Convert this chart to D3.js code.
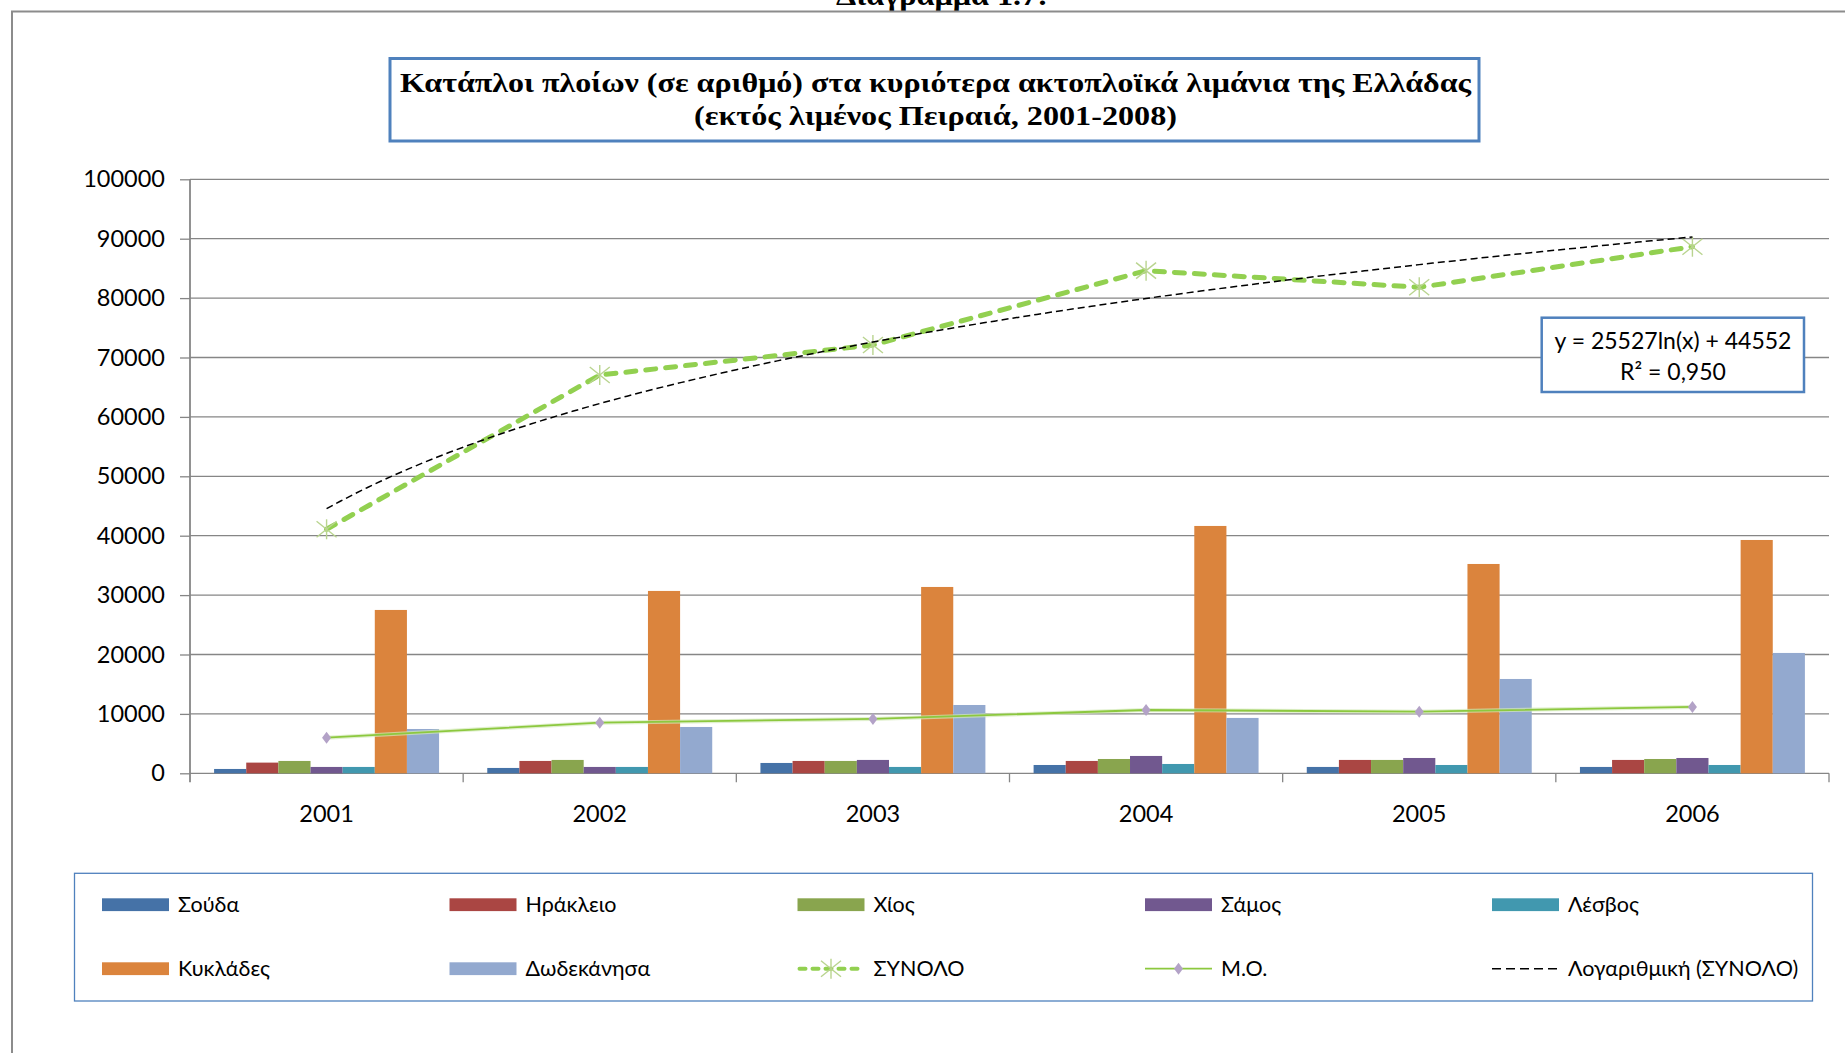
<!DOCTYPE html>
<html>
<head>
<meta charset="utf-8">
<script src="https://cdn.jsdelivr.net/npm/d3@7"></script>
<style>
  html, body { margin: 0; padding: 0; background: #ffffff; overflow: hidden; }
  svg { display: block; }
</style>
</head>
<body>
<svg id="chart" width="1845" height="1053"></svg>
<script>
// ---- Data -------------------------------------------------------------
const years = ["2001", "2002", "2003", "2004", "2005", "2006"];
const barSeries = ["Σούδα", "Ηράκλειο", "Χίος", "Σάμος", "Λέσβος", "Κυκλάδες", "Δωδεκάνησα"];
const barColors = ["#4572a7", "#aa4643", "#89a54e", "#71588f", "#4198af", "#db843d", "#93a9cf"];

const soudaValues      = [730, 900, 1740, 1400, 1070, 1070];
const irakleioValues   = [1800, 2080, 2080, 2080, 2250, 2250];
const chiosValues      = [2080, 2250, 2080, 2410, 2250, 2410];
const samosValues      = [1070, 1070, 2250, 2920, 2580, 2580];
const lesvosValues     = [1070, 1070, 1070, 1570, 1400, 1400];
const kykladesValues   = [27500, 30700, 31370, 41640, 35240, 39280];
const dodekanisaValues = [7460, 7800, 11500, 9320, 15880, 20260];

const totalValues = [41080, 67050, 72100, 84620, 81820, 88650];   // ΣΥΝΟΛΟ
const meanValues  = [6000, 8530, 9150, 10660, 10380, 11170];      // Μ.Ο.

const yTicks = [0, 10000, 20000, 30000, 40000, 50000, 60000, 70000, 80000, 90000, 100000];

// Logarithmic trend of ΣΥΝΟΛΟ: y = a ln(x) + b
const trendA = 25527;
const trendB = 44552;
const trendLabel1 = "y = 25527ln(x) + 44552";
const trendLabel2 = "R² = 0,950";

const titleLines = [
  "Κατάπλοι πλοίων (σε αριθμό) στα κυριότερα ακτοπλοϊκά λιμάνια της Ελλάδας",
  "(εκτός λιμένος Πειραιά, 2001-2008)"
];
const captionText = "Διάγραμμα 1.7:";
const totalName = "ΣΥΝΟΛΟ";
const meanName = "Μ.Ο.";
const trendName = "Λογαριθμική (ΣΥΝΟΛΟ)";

const barValues = [soudaValues, irakleioValues, chiosValues, samosValues,
                   lesvosValues, kykladesValues, dodekanisaValues];

// ---- Layout -----------------------------------------------------------
const svg = d3.select("#chart");
const FONT = "Lato, 'Open Sans', 'DejaVu Sans', sans-serif";
const SERIF = "'Liberation Serif', 'DejaVu Serif', serif";
const plot = { left: 190, right: 1829, top: 179.3, bottom: 773.3 };
const gridColor = "#868686";
const green = "#92d050";

svg.append("rect").attr("width", 1845).attr("height", 1053).attr("fill", "#fff");

// caption above the frame (its upper part runs off the page edge)
svg.append("text")
  .attr("x", 942).attr("y", 5)
  .attr("text-anchor", "middle")
  .attr("textLength", 212).attr("lengthAdjust", "spacingAndGlyphs")
  .style("font-family", SERIF).style("font-weight", "bold").style("font-size", "28px")
  .text(captionText);

// outer frame
svg.append("path")
  .attr("d", "M12,1060 L12,11.5 L1860,11.5")
  .attr("fill", "none").attr("stroke", "#8c8c8c").attr("stroke-width", 2);

// ---- Scales -----------------------------------------------------------
const x = d3.scaleBand().domain(years).range([plot.left, plot.right]).padding(0);
const bw = x.bandwidth();
const unit = bw / 8.5;
const xInner = d3.scaleBand().domain(barSeries).range([0.75 * unit, 7.75 * unit]).padding(0);
const y = d3.scaleLinear().domain([0, 100000]).range([plot.bottom, plot.top]);
const xTrend = d3.scaleLinear().domain([1, years.length])
  .range([x(years[0]) + bw / 2, x(years[years.length - 1]) + bw / 2]);

// ---- Grid & axes ------------------------------------------------------
svg.append("g").selectAll("line").data(yTicks).join("line")
  .attr("x1", plot.left).attr("x2", plot.right)
  .attr("y1", d => y(d)).attr("y2", d => y(d))
  .attr("stroke", gridColor).attr("stroke-width", 1.3);

const yAxis = svg.append("g")
  .attr("transform", `translate(${plot.left},0)`)
  .call(d3.axisLeft(y).tickValues(yTicks).tickFormat(d3.format("d")).tickSize(10).tickPadding(15));
yAxis.select(".domain").remove();
yAxis.selectAll(".tick line").attr("stroke", gridColor).attr("stroke-width", 1.3);
yAxis.selectAll(".tick text")
  .style("font-family", FONT).style("font-size", "23.5px").attr("fill", "#000");

svg.append("line")
  .attr("x1", plot.left).attr("x2", plot.left)
  .attr("y1", plot.top).attr("y2", plot.bottom + 9)
  .attr("stroke", gridColor).attr("stroke-width", 1.8);

// category boundary ticks under the baseline
const boundaries = years.map(d => x(d)).concat([plot.right]);
svg.append("g").selectAll("line").data(boundaries.slice(1)).join("line")
  .attr("x1", d => d).attr("x2", d => d)
  .attr("y1", plot.bottom).attr("y2", plot.bottom + 9)
  .attr("stroke", gridColor).attr("stroke-width", 1.3);

svg.append("g").selectAll("text").data(years).join("text")
  .attr("x", d => x(d) + bw / 2).attr("y", plot.bottom + 49)
  .attr("text-anchor", "middle")
  .style("font-family", FONT).style("font-size", "23.5px").attr("fill", "#000")
  .text(d => d);

// ---- Bars ---------------------------------------------------------------
const barData = [];
barSeries.forEach((s, i) => {
  years.forEach((yr, j) => barData.push({ series: s, year: yr, value: barValues[i][j], color: barColors[i] }));
});
svg.append("g").selectAll("rect").data(barData).join("rect")
  .attr("x", d => x(d.year) + xInner(d.series))
  .attr("width", xInner.bandwidth())
  .attr("y", d => y(d.value))
  .attr("height", d => y(0) - y(d.value))
  .attr("fill", d => d.color);

// ---- Μ.Ο. line ----------------------------------------------------------
const meanLine = d3.line().x((d, i) => x(years[i]) + bw / 2).y(d => y(d));
svg.append("path").datum(meanValues)
  .attr("d", meanLine).attr("fill", "none")
  .attr("stroke", "#d3eab8").attr("stroke-width", 4).attr("opacity", 0.7);
svg.append("path").datum(meanValues)
  .attr("d", meanLine).attr("fill", "none")
  .attr("stroke", "#8cc83e").attr("stroke-width", 1.8);

function diamond(g, cx, cy) {
  g.append("path")
    .attr("d", `M${cx},${cy - 6} L${cx + 4.5},${cy} L${cx},${cy + 6} L${cx - 4.5},${cy} Z`)
    .attr("fill", "#b3a2c7");
}
const meanMarks = svg.append("g");
meanValues.forEach((v, i) => diamond(meanMarks, x(years[i]) + bw / 2, y(v)));

// ---- ΣΥΝΟΛΟ line ---------------------------------------------------------
const totalLine = d3.line().x((d, i) => x(years[i]) + bw / 2).y(d => y(d));
svg.append("path").datum(totalValues)
  .attr("d", totalLine).attr("fill", "none")
  .attr("stroke", green).attr("stroke-width", 5)
  .attr("stroke-linecap", "round").attr("stroke-dasharray", "10 10");

function star(g, cx, cy) {
  const s = g.append("g").attr("stroke", "#b9d48f").attr("stroke-width", 1.4).attr("fill", "none");
  s.append("line").attr("x1", cx).attr("x2", cx).attr("y1", cy - 10).attr("y2", cy + 10);
  s.append("line").attr("x1", cx - 10).attr("x2", cx + 10).attr("y1", cy - 8).attr("y2", cy + 8);
  s.append("line").attr("x1", cx - 10).attr("x2", cx + 10).attr("y1", cy + 8).attr("y2", cy - 8);
}
const totalMarks = svg.append("g");
totalValues.forEach((v, i) => star(totalMarks, x(years[i]) + bw / 2, y(v)));

// ---- Logarithmic trend line ---------------------------------------------
const trendPts = d3.range(1, years.length + 0.001, 0.05).map(t => [t, trendA * Math.log(t) + trendB]);
svg.append("path").datum(trendPts)
  .attr("d", d3.line().x(d => xTrend(d[0])).y(d => y(d[1])))
  .attr("fill", "none").attr("stroke", "#000").attr("stroke-width", 1.5)
  .attr("stroke-dasharray", "7 4");

// trend equation label
const eq = svg.append("g");
eq.append("rect")
  .attr("x", 1541.7).attr("y", 317.7).attr("width", 262.3).attr("height", 74.3)
  .attr("fill", "#fff").attr("stroke", "#4f81bd").attr("stroke-width", 2.5);
eq.append("text").attr("x", 1673).attr("y", 348.5).attr("text-anchor", "middle")
  .style("font-family", FONT).style("font-size", "23px").text(trendLabel1);
eq.append("text").attr("x", 1673).attr("y", 379.5).attr("text-anchor", "middle")
  .style("font-family", FONT).style("font-size", "23px").text(trendLabel2);

// ---- Title ----------------------------------------------------------------
svg.append("rect")
  .attr("x", 390).attr("y", 58.5).attr("width", 1089).attr("height", 82.5)
  .attr("fill", "#fff").attr("stroke", "#4f81bd").attr("stroke-width", 3);
svg.append("text").attr("x", 935.5).attr("y", 91.5).attr("text-anchor", "middle")
  .attr("textLength", 1071).attr("lengthAdjust", "spacingAndGlyphs")
  .style("font-family", SERIF).style("font-weight", "bold").style("font-size", "28px")
  .text(titleLines[0]);
svg.append("text").attr("x", 935.5).attr("y", 125).attr("text-anchor", "middle")
  .attr("textLength", 483).attr("lengthAdjust", "spacingAndGlyphs")
  .style("font-family", SERIF).style("font-weight", "bold").style("font-size", "28px")
  .text(titleLines[1]);

// ---- Legend ---------------------------------------------------------------
svg.append("rect")
  .attr("x", 74.5).attr("y", 873.3).attr("width", 1738).attr("height", 127.7)
  .attr("fill", "#fff").attr("stroke", "#4f81bd").attr("stroke-width", 1.3);

const legendItems = barSeries.map((s, i) => ({ name: s, type: "bar", color: barColors[i] }))
  .concat([{ name: totalName, type: "total" }, { name: meanName, type: "mean" }, { name: trendName, type: "trend" }]);
const colX = [102, 449.5, 797.5, 1145, 1492];
const rowY = [898.3, 962.3];   // swatch tops
const swW = 67, swH = 12.8;

legendItems.forEach((d, k) => {
  const cx = colX[k % 5], top = rowY[Math.floor(k / 5)];
  const mid = top + swH / 2;
  const g = svg.append("g");
  if (d.type === "bar") {
    g.append("rect").attr("x", cx).attr("y", top).attr("width", swW).attr("height", swH).attr("fill", d.color);
  } else if (d.type === "total") {
    g.append("line").attr("x1", cx + 2).attr("x2", cx + swW - 2).attr("y1", mid).attr("y2", mid)
      .attr("stroke", green).attr("stroke-width", 4).attr("stroke-linecap", "round")
      .attr("stroke-dasharray", "6 7");
    star(g, cx + swW / 2, mid);
  } else if (d.type === "mean") {
    g.append("line").attr("x1", cx).attr("x2", cx + swW).attr("y1", mid).attr("y2", mid)
      .attr("stroke", "#8cc83e").attr("stroke-width", 1.8);
    diamond(g, cx + swW / 2, mid);
  } else {
    g.append("line").attr("x1", cx).attr("x2", cx + swW).attr("y1", mid).attr("y2", mid)
      .attr("stroke", "#000").attr("stroke-width", 1.5).attr("stroke-dasharray", "9 5");
  }
  g.append("text").attr("x", cx + swW + 9).attr("y", top + swH + 0.8)
    .style("font-family", FONT).style("font-size", "21.5px").attr("fill", "#000")
    .text(d.name);
});
</script>
</body>
</html>
